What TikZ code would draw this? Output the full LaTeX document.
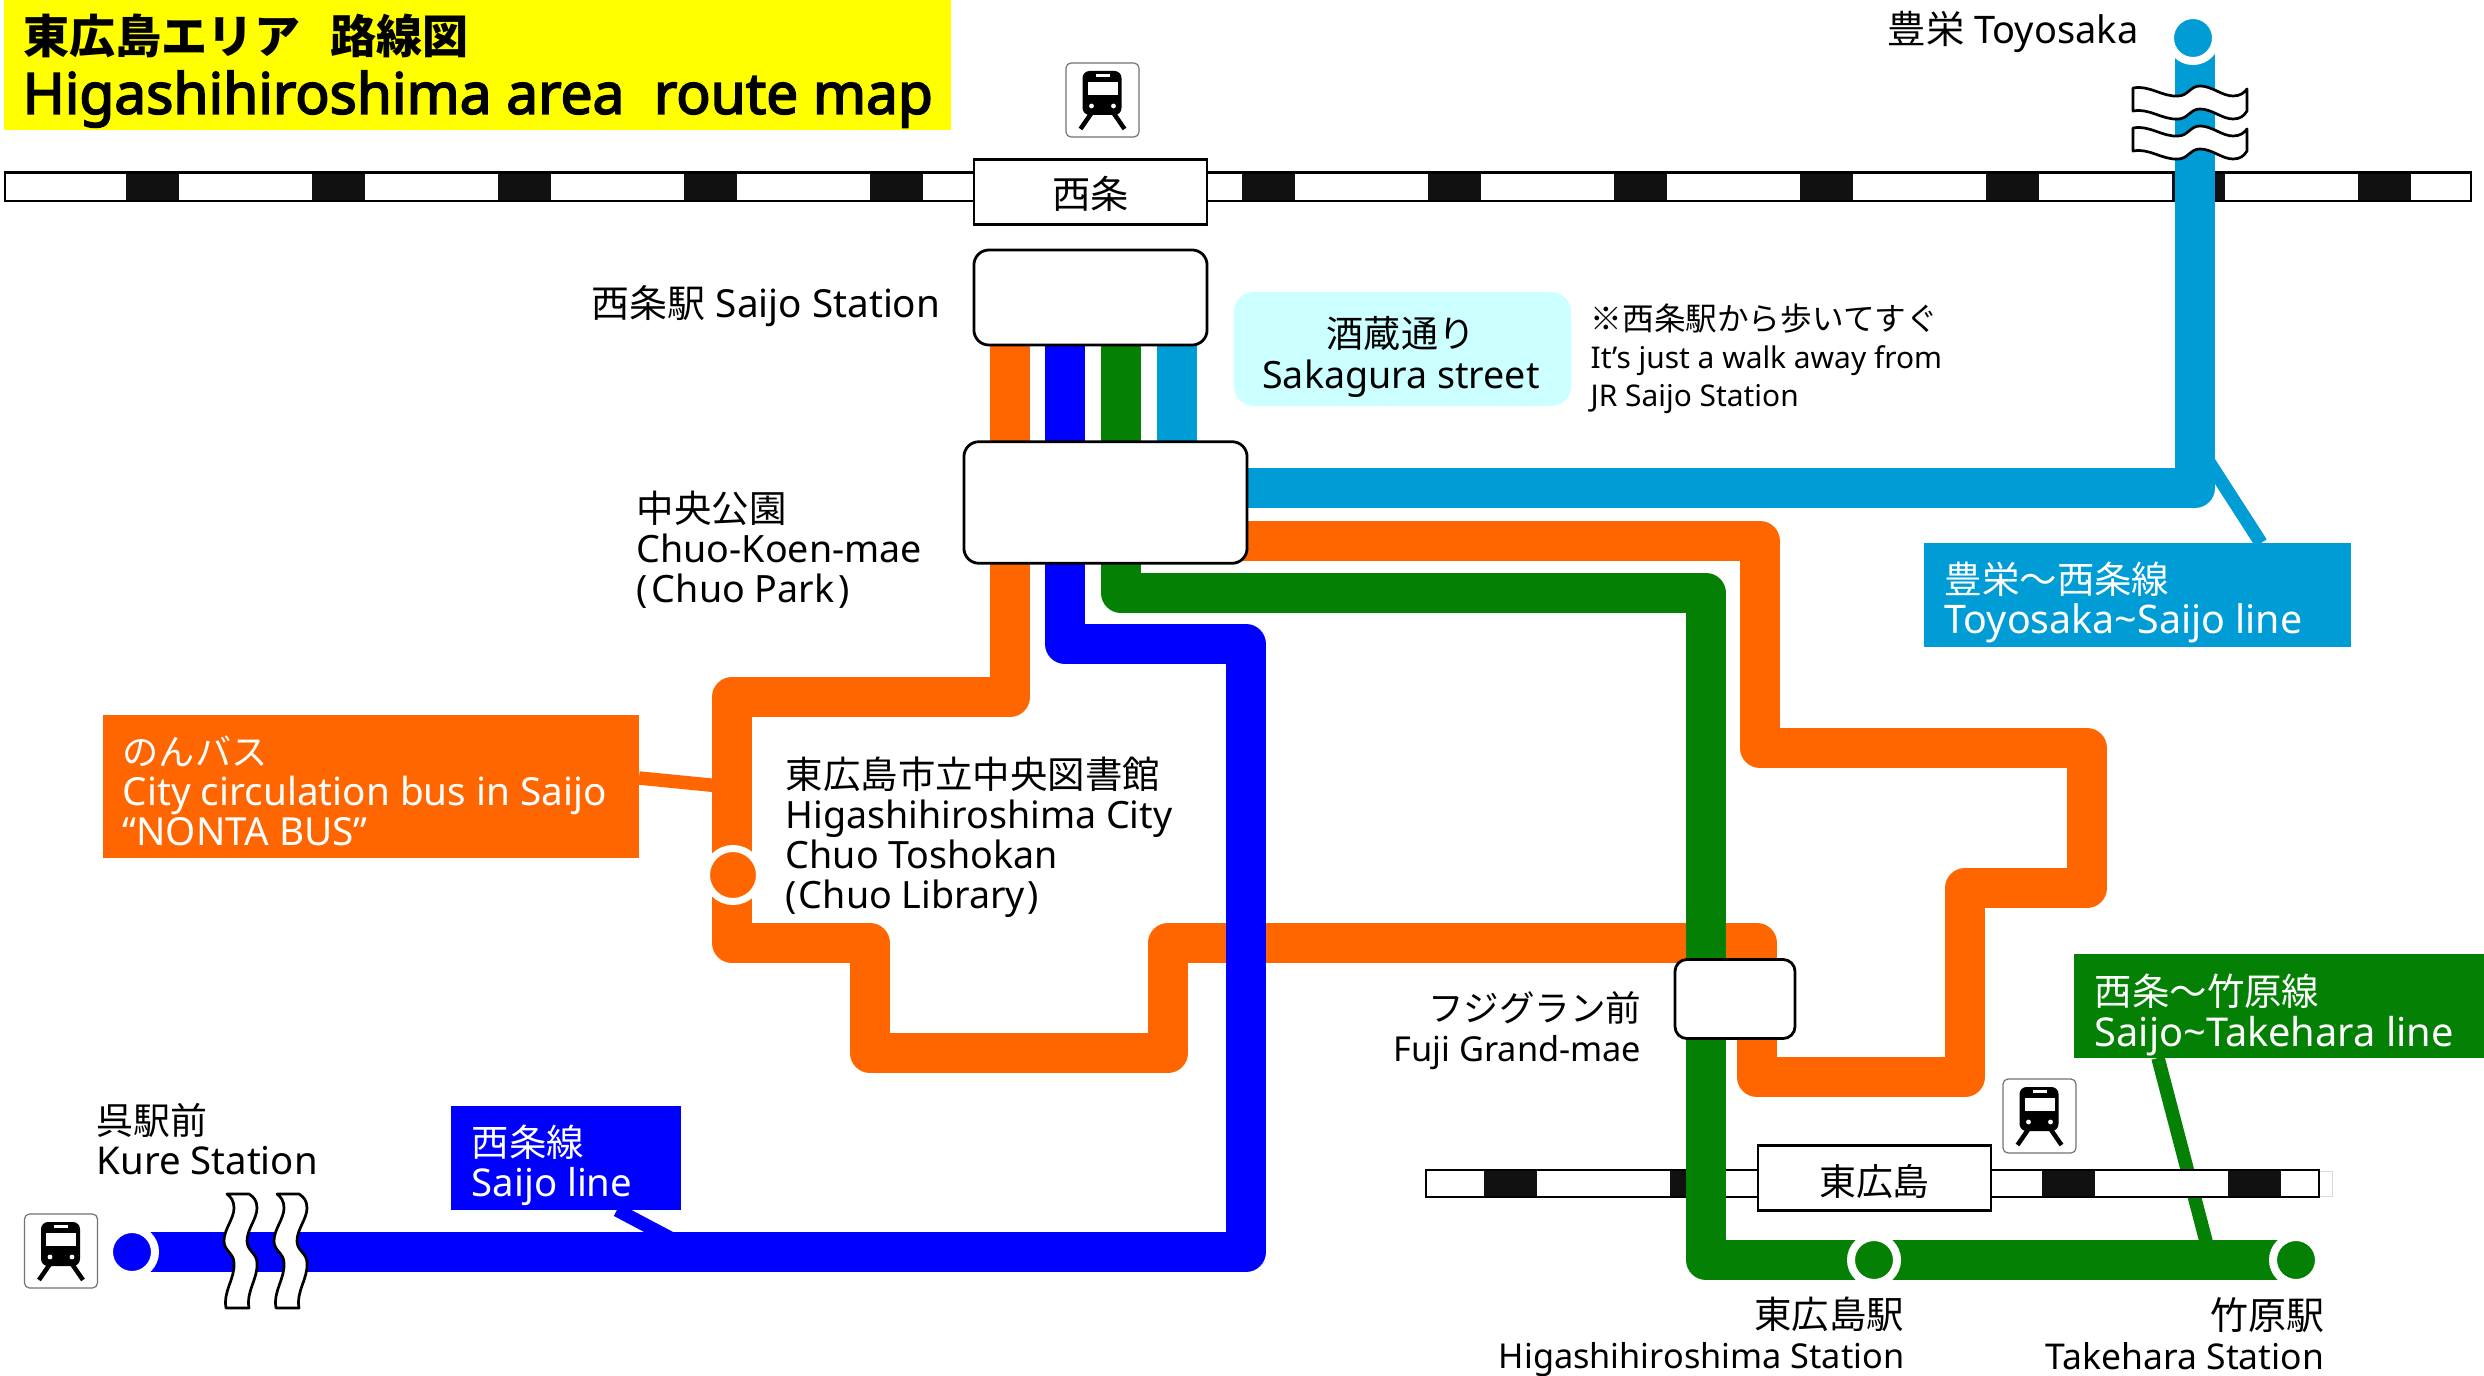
\documentclass[tikz,border=0pt]{standalone}
\usepackage{fontspec}
\setmainfont{Noto Sans}
\newfontfamily\jp{Noto Sans CJK JP}
\newfontfamily\titlefont[FakeBold=3]{Noto Sans}
\newcommand\jpn[2][10.65]{{\fontsize{#1}{11.4}\selectfont\jp #2}}
\newcommand\sz[1]{\fontsize{#1}{11.4}\selectfont}
\definecolor{titleyellow}{HTML}{FFFF00}
\definecolor{routeorange}{HTML}{FF6600}
\definecolor{routeblue}{HTML}{0000FF}
\definecolor{routegreen}{HTML}{048004}
\definecolor{routesky}{HTML}{009CD5}
\definecolor{streetcyan}{HTML}{CCFFFF}
\definecolor{trackblack}{HTML}{111111}
\tikzset{
  trainicon/.pic={
    \draw[draw=black!55,fill=white,line width=.012cm,rounded corners=.05cm] (-36.5,-37) rectangle (36.5,37);
    \fill[black,rounded corners=.07cm] (-20,-29) rectangle (19,15);
    \fill[white] (-15,-18) rectangle (15,-5);
    \fill[white] (-7,-26) rectangle (7,-23);
    \fill[white] (-11,6) circle (2.4);
    \fill[white] (11,6) circle (2.4);
    \draw[black,line width=.045cm] (-11,13) -- (-22,29);
    \draw[black,line width=.045cm] (11,13) -- (22,29);
  },
  waveband/.pic={
    \draw[fill=white,line width=.027cm,line join=round] (-57,-14)
      .. controls (-40,-17) and (-28,-5) .. (-12,-6)
      .. controls (-2,-6) and (0,-16) .. (10,-16)
      .. controls (22,-16) and (32,-6) .. (43,-6)
      .. controls (50,-6) and (54,-9) .. (57,-13)
      -- (57,9)
      .. controls (54,14) and (50,17) .. (43,17)
      .. controls (32,17) and (22,7) .. (10,7)
      .. controls (0,7) and (-2,17) .. (-12,17)
      .. controls (-28,18) and (-40,6) .. (-57,9) -- cycle;
  }
}
\begin{document}
\begin{tikzpicture}[x=.01cm,y=-.01cm,
  route/.style={line width=.4cm,line join=round},
  tap/.style={line width=.135cm},
  stn/.style={circle,fill=#1,draw=white,line width=.08cm,minimum size=.46cm,inner sep=0},
  hub/.style={draw,fill=white,line width=.028cm,rounded corners=.15cm,inner sep=0},
  platebox/.style={draw,fill=white,line width=.025cm,inner sep=0},
  linebox/.style={fill=#1,inner sep=0},
  lab/.style={inner sep=0,align=left,anchor=west,font=\fontsize{10.7}{11.4}\selectfont},
  labw/.style={lab,text=white},
  labr/.style={inner sep=0,align=right,anchor=east,font=\fontsize{10.2}{11.4}\selectfont}]
  \useasboundingbox (0,0) rectangle (2484,1376);

  % title
  \node[linebox=titleyellow,minimum width=9.47cm,minimum height=1.3cm] (titlebox) at (477.5,65) {};
  \node[anchor=west,inner sep=0,font=\fontsize{13.1}{15}\selectfont\jp\bfseries] (title1) at (23,36) {東広島エリア\hspace{.3cm}路線図};
  \node[anchor=west,inner sep=0,font=\fontsize{16.15}{18}\selectfont\titlefont] (title2) at (22,99) {Higashihiroshima area\ \ route map};

  % stations and name boxes, the routes start from these
  \coordinate (o0) at (1010,300);
  \coordinate (b0) at (1065,300);
  \coordinate (g0) at (1121,300);
  \coordinate (s0) at (1177,300);
  \coordinate (o1) at (1200,541);
  \coordinate (s1) at (1200,488);
  \coordinate (skyfoot) at (2261,543);
  \coordinate (skyhead) at (2196,442);
  \coordinate (orangefoot) at (639,778);
  \coordinate (orangehead) at (720,786);
  \coordinate (bluefoot) at (617,1210);
  \coordinate (bluehead) at (670,1238);
  \coordinate (greenfoot) at (2158,1058);
  \coordinate (greenhead) at (2207,1245);

  % callouts of the line names
  \draw[tap,routesky] (skyfoot) -- (skyhead);
  \draw[tap,routeorange] (orangefoot) -- (orangehead);
  \draw[tap,routeblue] (bluefoot) -- (bluehead);
  \draw[tap,routegreen] (greenfoot) -- (greenhead);

  % railway tracks
  \draw[fill=white,line width=.027cm] (5,172.5) rectangle (2471,201);
  \foreach \x in {126,312,498,684,870,1056,1242,1428,1614,1800,1986,2172,2358}
    \fill[trackblack] (\x,172.5) rectangle ++(53,28.5);
  \draw[line width=.027cm] (5,172.5) rectangle (2471,201);
  \draw[black!15,line width=.01cm] (2319,1171) -- (2332,1171) -- (2332,1196) -- (2319,1196);
  \draw[fill=white,line width=.027cm] (1426,1170) rectangle (2319,1197);
  \foreach \x in {1484,1670,1856,2042,2228}
    \fill[trackblack] (\x,1170) rectangle ++(53,27);
  \draw[line width=.027cm] (1426,1170) rectangle (2319,1197);

  % end stations
  \coordinate (toyosaka) at (2193,38);
  \coordinate (library) at (733,875);
  \coordinate (kure) at (132,1252);
  \coordinate (higashi) at (1874,1260);
  \coordinate (takehara) at (2296,1260);

  % routes
  \draw[route,routeorange] (o0) -- (1010,697) -- (732,697) -- (732,943) -- (870,943) -- (870,1053)
    -- (1168,1053) -- (1168,943) -- (1757,943) -- (1757,1077) -- (1965,1077) -- (1965,888)
    -- (2087,888) -- (2087,748) -- (1760,748) -- (1760,541) -- (o1);
  \draw[route,routeblue] (b0) -- (1065,644) -- (1246,644) -- (1246,1252) -- (kure);
  \draw[route,routegreen] (g0) -- (1121,593) -- (1706,593) -- (1706,1260) -- (takehara);
  \draw[route,routesky] (s0) -- (1177,480);
  \draw[route,routesky] (s1) -- (2195,488) -- (2195,38);
  \node[stn=routesky] (toyosakadot) at (toyosaka) {};
  \node[stn=routeorange,minimum size=.53cm,line width=.07cm] (librarydot) at (library) {};
  \node[stn=routeblue] (kuredot) at (kure) {};
  \node[stn=routegreen] (higashidot) at (higashi) {};
  \node[stn=routegreen] (takeharadot) at (takehara) {};

  % breaks in the lines
  \pic at (2190,102) {waveband};
  \pic at (2190,142) {waveband};
  \pic[rotate=90] at (240,1251) {waveband};
  \pic[rotate=90] at (290,1251) {waveband};

  % boxes over the routes
  \node[platebox,minimum width=2.33cm,minimum height=.65cm] (saijoplate) at (1090.5,192) {};
  \node[inner sep=0,font=\fontsize{10.9}{12}\selectfont\jp] (saijoplatename) at (1090.5,194) {西条};
  \node[platebox,minimum width=2.33cm,minimum height=.65cm] (higashiplate) at (1874.5,1178) {};
  \node[inner sep=0,font=\fontsize{10.5}{12}\selectfont\jp] (higashiplatename) at (1874.5,1181) {東広島};
  \node[hub,minimum width=2.33cm,minimum height=.95cm] (saijo) at (1090.5,297.5) {};
  \node[hub,minimum width=2.83cm,minimum height=1.215cm] (chuo) at (1105.5,502.5) {};
  \node[hub,minimum width=1.2cm,minimum height=.79cm,rounded corners=.12cm] (fuji) at (1735,999) {};
  \pic at (1102.5,100) {trainicon};
  \pic at (2039.5,1116) {trainicon};
  \pic at (61,1251) {trainicon};

  % name boxes of the lines
  \node[linebox=routesky,minimum width=4.27cm,minimum height=1.04cm] (skybox) at (2137.5,595) {};
  \node[labw] (skytext) at (1944,602) {\jpn{豊栄〜西条線}\\\sz{11.2}Toyosaka\textasciitilde Saijo line};
  \node[linebox=routeorange,minimum width=5.36cm,minimum height=1.43cm] (orangebox) at (371,786.5) {};
  \node[labw,font=\fontsize{11}{11.4}\selectfont] (orangetext) at (122,791) {\jpn[10.3]{のんバス}\\City circulation bus in Saijo\\“NONTA BUS”};
  \node[linebox=routeblue,minimum width=2.3cm,minimum height=1.04cm] (bluebox) at (566,1158) {};
  \node[labw,font=\fontsize{10.9}{11.4}\selectfont] (bluetext) at (471,1165.5) {\jpn{西条線}\\Saijo line};
  \node[linebox=routegreen,minimum width=4.1cm,minimum height=1.04cm] (greenbox) at (2279,1006) {};
  \node[labw,font=\fontsize{11.3}{11.4}\selectfont] (greentext) at (2094,1015) {\jpn{西条〜竹原線}\\Saijo\textasciitilde Takehara line};
  \node[fill=streetcyan,minimum width=3.37cm,minimum height=1.14cm,rounded corners=.2cm,inner sep=0] (streetbox) at (1402.5,349) {};
  \node[inner sep=0,align=center,font=\fontsize{10.7}{11.8}\selectfont] (streettext) at (1401,357) {\jpn[10.55]{酒蔵通り}\\Sakagura street};

  % station names
  \node[labr,font=\fontsize{11}{11.4}\selectfont] (saijoname) at (941,306) {\jpn[10.8]{西条駅} Saijo Station};
  \node[lab] (chuoname) at (636,550) {\jpn{中央公園}\\Chuo-Koen-mae\\(\kern.04cm Chuo Park\kern.04cm)};
  \node[lab,font=\fontsize{8.5}{10.8}\selectfont] (walknote) at (1590,359) {\jpn[9]{※西条駅から歩いてすぐ}\\It's just a walk away from\\JR Saijo Station};
  \node[labr,font=\fontsize{10.8}{11.4}\selectfont] (toyosakaname) at (2139,32) {\jpn[10.9]{豊栄} Toyosaka};
  \node[lab] (libraryname) at (785,837.5) {\jpn{東広島市立中央図書館}\\Higashihiroshima City\\Chuo Toshokan\\(\kern.02cm Chuo Library\kern.02cm)};
  \node[labr,font=\fontsize{9.77}{11.4}\selectfont] (fujiname) at (1642,1030.5) {\jpn[10.1]{フジグラン前}\\Fuji Grand-mae};
  \node[lab,font=\fontsize{10.9}{11.4}\selectfont] (kurename) at (96,1139.5) {\jpn[10.5]{呉駅前}\\Kure Station};
  \node[labr,font=\fontsize{9.75}{11.4}\selectfont] (higashiname) at (1905,1337) {\jpn{東広島駅}\\Higashihiroshima Station};
  \node[labr,font=\fontsize{10.1}{11.4}\selectfont] (takeharaname) at (2325,1334) {\jpn[10.8]{竹原駅}\\Takehara Station};
\end{tikzpicture}
\end{document}
